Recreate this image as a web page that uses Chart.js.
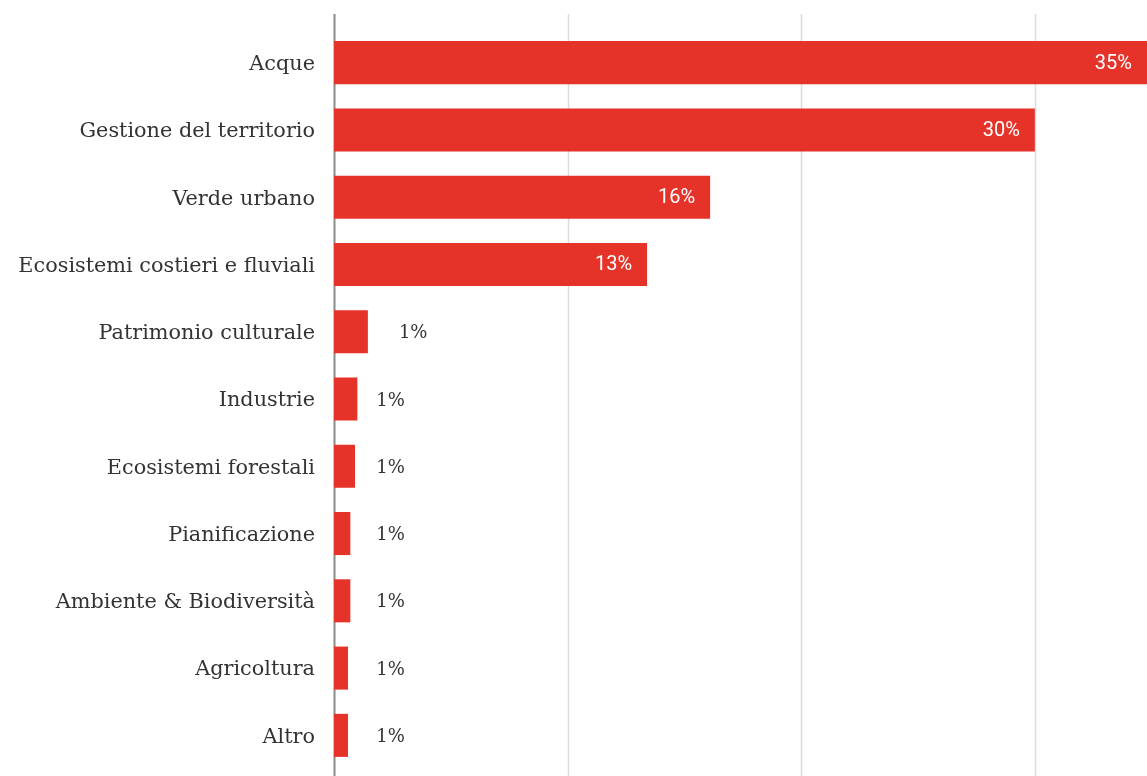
<!DOCTYPE html>
<html>
<head>
<meta charset="utf-8">
<script src="https://cdn.jsdelivr.net/npm/chart.js@4"></script>
<style>
  html, body { margin: 0; padding: 0; background: #fff; }
  #wrap { width: 1147px; height: 776px; }
</style>
</head>
<body>
<div id="wrap"><canvas id="chart" width="1147" height="776"></canvas></div>
<script>
// categorie e percentuali
const categories = [
  "Acque",
  "Gestione del territorio",
  "Verde urbano",
  "Ecosistemi costieri e fluviali",
  "Patrimonio culturale",
  "Industrie",
  "Ecosistemi forestali",
  "Pianificazione",
  "Ambiente & Biodiversità",
  "Agricoltura",
  "Altro"
];
const shares = [35, 30.0, 16.1, 13.4, 1.45, 1.0, 0.9, 0.7, 0.7, 0.6, 0.6];
const gridTicks = [0, 10, 20, 30];

const RED = "#e5332a";
const slab = "'DejaVu Serif', serif";

// griglia verticale e asse che sbordano oltre l'area del grafico
const gridPlugin = {
  id: "fullGrid",
  beforeDatasetsDraw(chart) {
    const { ctx, scales: { x } } = chart;
    ctx.save();
    gridTicks.forEach(t => {
      const px = Math.round(x.getPixelForValue(t)) + 0.5;
      ctx.beginPath();
      if (t === 0) {
        ctx.strokeStyle = "#8a8a8a";
        ctx.lineWidth = 2;
      } else {
        ctx.strokeStyle = "#dcdcdc";
        ctx.lineWidth = 1.5;
      }
      ctx.moveTo(px, 14);
      ctx.lineTo(px, chart.height);
      ctx.stroke();
    });
    ctx.restore();
  }
};

// etichette dei valori: dentro la barra se c'è spazio, altrimenti fuori
const valueLabels = {
  id: "valueLabels",
  afterDatasetsDraw(chart) {
    const { ctx, scales: { x } } = chart;
    const meta = chart.getDatasetMeta(0);
    ctx.save();
    ctx.textBaseline = "middle";
    meta.data.forEach((bar, i) => {
      const v = shares[i];
      const txt = Math.round(v) + "%";
      const end = Math.min(bar.x, chart.chartArea.right);
      if (v > 5) {
        ctx.font = "20px Roboto";
        ctx.fillStyle = "#fff";
        ctx.textAlign = "right";
        ctx.fillText(txt, end - 15, bar.y + 1);
      } else {
        ctx.font = "18px " + slab;
        ctx.fillStyle = "#333";
        ctx.textAlign = "left";
        const one = x.getPixelForValue(1.0);
        const left = end > one + 5 ? end + 31 : one + 19;
        ctx.fillText(txt, left, bar.y + 2);
      }
    });
    ctx.restore();
  }
};

new Chart(document.getElementById("chart"), {
  type: "bar",
  data: {
    labels: categories,
    datasets: [{
      data: shares,
      backgroundColor: RED,
      borderWidth: 0,
      barPercentage: 0.64,
      categoryPercentage: 1
    }]
  },
  options: {
    indexAxis: "y",
    responsive: false,
    animation: false,
    layout: { padding: { top: 29, bottom: 7, right: 0, left: 0 } },
    plugins: { legend: { display: false }, tooltip: { enabled: false } },
    scales: {
      x: {
        min: 0,
        max: 34.8,
        display: false,
        grid: { display: false }
      },
      y: {
        grid: { display: false },
        border: { display: false },
        afterFit(scale) {
          scale.width = 334;
          scale.paddingTop = 0;
          scale.paddingBottom = 0;
        },
        ticks: {
          padding: 11,
          labelOffset: 2,
          color: "#333",
          font: { family: slab, size: 20.8 }
        }
      }
    }
  },
  plugins: [gridPlugin, valueLabels]
});
</script>
</body>
</html>
